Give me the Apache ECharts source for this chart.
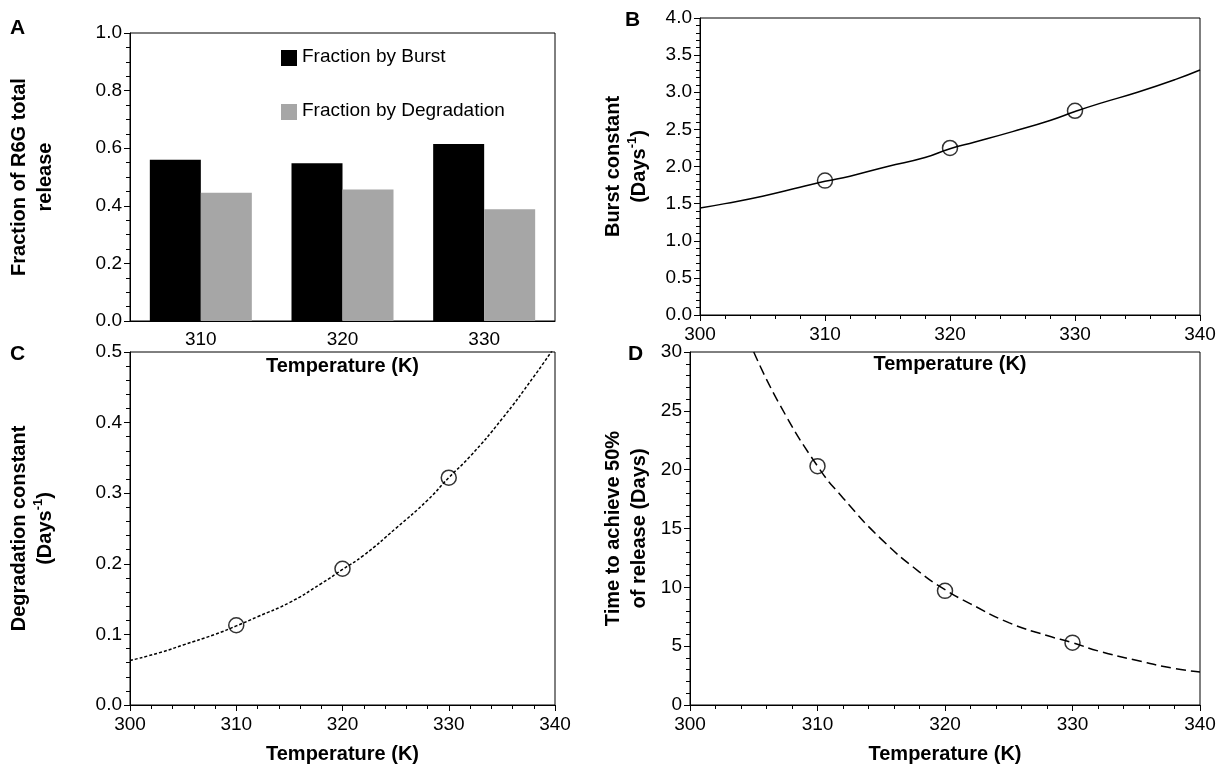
<!DOCTYPE html>
<html>
<head>
<meta charset="utf-8">
<script src="https://cdn.jsdelivr.net/npm/echarts@6/dist/echarts.min.js"></script>
<style>html,body{margin:0;background:#fff}#main{width:1223px;height:773px}</style>
</head>
<body>
<div id="main"></div>
<script>
var temps = ['310', '320', '330'];
var burstFrac = [0.56, 0.548, 0.615];
var degrFrac = [0.445, 0.457, 0.388];
var burstLine = [[300,1.44],[302,1.5],[305,1.6],[308,1.72],[310,1.8],[312,1.87],[315,2.0],[318,2.12],[320,2.24],[322,2.33],[325,2.47],[328,2.62],[330,2.74],[332,2.85],[335,3.0],[338,3.17],[340,3.3]];
var burstPts = [[310,1.81],[320,2.25],[330,2.75]];
var degrLine = [[300,0.063],[303,0.075],[305,0.085],[308,0.1],[310,0.112],[312,0.125],[315,0.145],[318,0.172],[320,0.192],[322,0.212],[325,0.25],[328,0.29],[330,0.322],[332,0.352],[335,0.405],[338,0.465],[340,0.508]];
var degrPts = [[310,0.113],[320,0.193],[330,0.322]];
var timeLine = [[305,30],[307,25.6],[310,20.3],[312,17.6],[315,14.1],[318,11.3],[320,9.8],[322,8.6],[325,7.0],[328,5.9],[330,5.3],[332,4.6],[335,3.8],[338,3.1],[340,2.8]];
var timePts = [[310,20.3],[320,9.7],[330,5.3]];

var F = 'Liberation Sans, Arial, sans-serif';
var lab = {color:'#000', fontSize:19, fontFamily:F};
var nameSt = {color:'#000', fontSize:20, fontWeight:'bold', fontFamily:F, lineHeight:26,
  rich:{sup:{fontSize:13, fontWeight:'bold', verticalAlign:'top', padding:[0,0,8,0], fontFamily:F}}};
var axLine = {show:true, lineStyle:{color:'#000', width:1}};
var tick = {show:true, inside:false, length:6, lineStyle:{color:'#000'}};
var mTick = function(n){ return {show:true, splitNumber:n, length:4, lineStyle:{color:'#000'}}; };

function valX(i) {
  return {type:'value', gridIndex:i, min:300, max:340, interval:10, axisLine:axLine, axisTick:tick,
    minorTick:mTick(5), axisLabel:Object.assign({margin:10}, lab), splitLine:{show:false}, name:'Temperature (K)',
    nameLocation:'middle', nameGap:36, nameTextStyle:nameSt};
}
function valY(i, max, itv, n, name, gap, fmt) {
  return {type:'value', gridIndex:i, min:0, max:max, interval:itv, axisLine:axLine, axisTick:tick,
    minorTick:mTick(n), axisLabel:Object.assign({formatter:fmt}, lab), splitLine:{show:false},
    name:name, nameLocation:'middle', nameGap:gap, nameTextStyle:nameSt};
}
function line(i, d, type) {
  return {type:'line', xAxisIndex:i, yAxisIndex:i, data:d, showSymbol:false, smooth:true,
    lineStyle:{color:'#000', width:1.5, type:type}, z:2};
}
function pts(i, d) {
  return {type:'scatter', xAxisIndex:i, yAxisIndex:i, data:d, symbol:'circle', symbolSize:15,
    itemStyle:{color:'rgba(255,255,255,0)', borderColor:'#000', borderWidth:1.5}, z:3};
}
var f1 = function(v){return v.toFixed(1);};
var box = {show:true, borderColor:'#000', borderWidth:1, containLabel:false, outerBoundsMode:'none'};
var chart = echarts.init(document.getElementById('main'));
chart.setOption({
  animation:false,
  grid:[
    Object.assign({left:130, top:33, width:425, height:288}, box),
    Object.assign({left:700, top:18, width:500, height:297}, box),
    Object.assign({left:130, top:352, width:425, height:353}, box),
    Object.assign({left:690, top:352, width:510, height:353}, box)
  ],
  xAxis:[
    {type:'category', gridIndex:0, data:temps, axisLine:axLine, axisTick:{show:false}, axisLabel:Object.assign({margin:9}, lab),
      name:'Temperature (K)', nameLocation:'middle', nameGap:32, nameTextStyle:nameSt},
    valX(1), valX(2), valX(3)
  ],
  yAxis:[
    valY(0, 1.0, 0.2, 4, 'Fraction of R6G total\nrelease', 72, f1),
    valY(1, 4.0, 0.5, 5, 'Burst constant\n(Days{sup|-1})', 48, f1),
    valY(2, 0.5, 0.1, 5, 'Degradation constant\n(Days{sup|-1})', 72, f1),
    valY(3, 30, 5, 5, 'Time to achieve 50%\nof release (Days)', 38, null)
  ],
  series:[
    {type:'bar', xAxisIndex:0, yAxisIndex:0, data:burstFrac, barWidth:51, barGap:'0%', itemStyle:{color:'#000'}},
    {type:'bar', xAxisIndex:0, yAxisIndex:0, data:degrFrac, barWidth:51, barGap:'0%', itemStyle:{color:'#a6a6a6'}},
    line(1, burstLine, 'solid'), pts(1, burstPts),
    line(2, degrLine, [3,2]), pts(2, degrPts),
    line(3, timeLine, [10,5]), pts(3, timePts)
  ],
  graphic:[
    {type:'text', left:10, top:18, style:{text:'A', font:'bold 21px '+F, fill:'#000'}},
    {type:'text', left:625, top:10, style:{text:'B', font:'bold 21px '+F, fill:'#000'}},
    {type:'text', left:10, top:344, style:{text:'C', font:'bold 21px '+F, fill:'#000'}},
    {type:'text', left:628, top:344, style:{text:'D', font:'bold 21px '+F, fill:'#000'}},
    {type:'rect', left:281, top:50, shape:{width:16, height:16}, style:{fill:'#000'}},
    {type:'text', left:302, top:47, style:{text:'Fraction by Burst', font:'19px '+F, fill:'#000'}},
    {type:'rect', left:281, top:104, shape:{width:16, height:16}, style:{fill:'#a6a6a6'}},
    {type:'text', left:302, top:101, style:{text:'Fraction by Degradation', font:'19px '+F, fill:'#000'}}
  ]
});
</script>
</body>
</html>
